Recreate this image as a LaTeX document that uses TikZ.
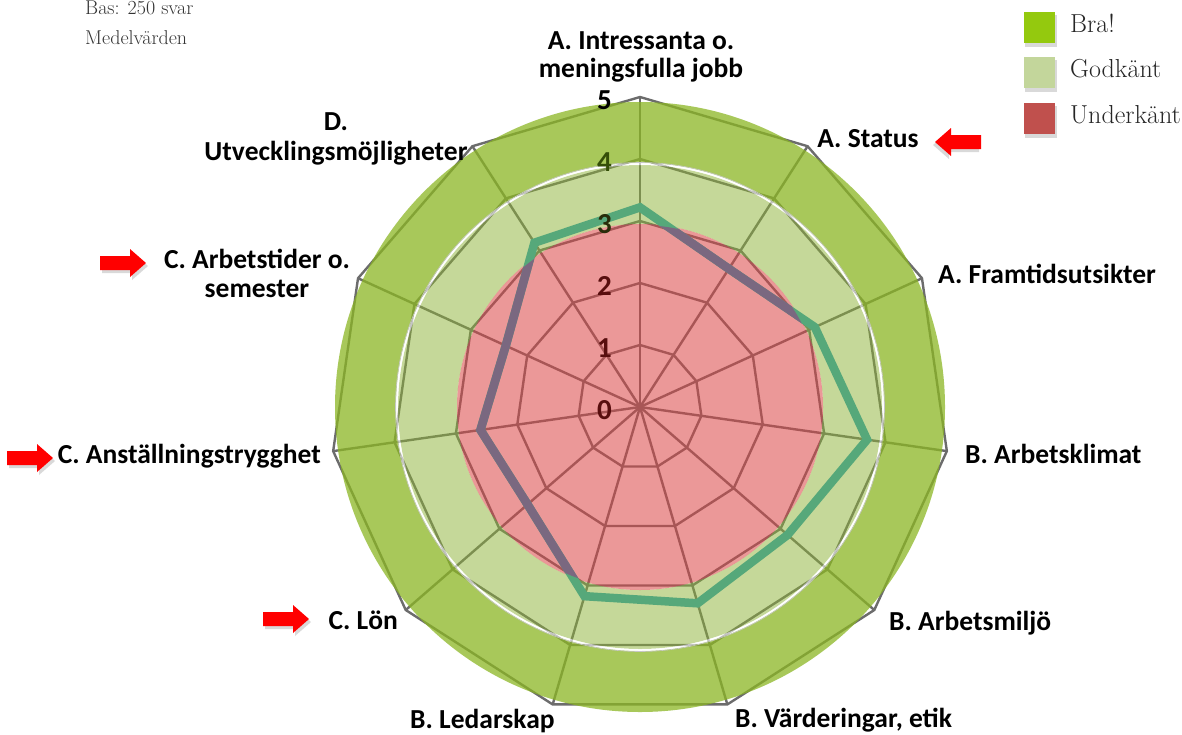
\documentclass[tikz,border=0pt]{standalone}
\usepackage{fontspec}
\newfontfamily\lab{Carlito}
\definecolor{gridgrey}{RGB}{108,108,108}
\definecolor{outergreen}{RGB}{139,182,35}
\definecolor{innergreen}{RGB}{141,179,53}
\definecolor{fillred}{RGB}{219,68,68}
\definecolor{lineteal}{RGB}{86,168,122}
\definecolor{linepurple}{RGB}{122,104,128}
\definecolor{legbra}{RGB}{148,201,14}
\definecolor{leggod}{RGB}{195,214,155}
\definecolor{legund}{RGB}{192,80,77}
\definecolor{arrowred}{RGB}{255,0,0}
\definecolor{numolive}{RGB}{52,78,8}
\definecolor{numdark}{RGB}{40,45,10}
\definecolor{nummaroon}{RGB}{88,14,14}
\tikzset{
  gridline/.style={draw=gridgrey, line width=2.4pt},
  axislabel/.style={font=\lab\bfseries\fontsize{27.5}{30}\selectfont, inner sep=0pt},
  numlabel/.style={font=\lab\bfseries\fontsize{29}{30}\selectfont, inner sep=0pt},
  legtext/.style={font=\fontsize{26}{28}\selectfont, inner sep=0pt, text=black!85},
  notetext/.style={font=\fontsize{20}{22}\selectfont, inner sep=0pt, text=black!80},
  dataline/.style={line width=8.5pt, line join=miter},
  redarrow/.pic={
    \fill[black, opacity=.15] (2,-4) -- (32,-4) -- (32,-11) -- (48,3) -- (32,17) -- (32,10) -- (2,10) -- cycle;
    \fill[arrowred] (0,-7) -- (30,-7) -- (30,-14) -- (46,0) -- (30,14) -- (30,7) -- (0,7) -- cycle;
  },
  legsquare/.style={minimum size=31pt, inner sep=0pt, draw=none}
}
\begin{document}
\begin{tikzpicture}[x=1pt,y=-1pt]
\useasboundingbox (0,0) rectangle (1182,734);
\fill[white] (0,0) rectangle (1182,734);
\def\cx{640}\def\cy{407}\def\u{62}
% grid spokes
\foreach \k in {0,...,10}
  \draw[gridline] (\cx,\cy) -- ({\cx+5*\u*cos(90-\k*360/11)},{\cy-5*\u*sin(90-\k*360/11)});
% grid polygons
\foreach \l in {1,...,5}
  \draw[gridline, line join=miter] plot[samples at={0,...,10}] ({\cx+\l*\u*cos(90-\x*360/11)},{\cy-\l*\u*sin(90-\x*360/11)}) -- cycle;
% coloured bands
\fill[outergreen, opacity=.75, even odd rule] (\cx,\cy) circle (305pt) (\cx,\cy) circle (244pt);
\fill[innergreen, opacity=.5, even odd rule] (\cx,\cy) circle (242pt) (\cx,\cy) circle (183pt);
\fill[fillred, opacity=.55] (\cx,\cy) circle (183pt);
\draw[white, opacity=.6, line width=2pt] (\cx,\cy) circle (243pt);
\draw[black!22, line width=.6pt] (\cx,\cy) circle (244.5pt);
% data
\foreach \v [count=\k from 0] in {3.22,2.65,3.1,3.7,3.15,3.3,3.18,2.4,2.6,2.38,3.15}
  \coordinate (d\k) at ({\cx+\v*\u*cos(90-\k*360/11)},{\cy-\v*\u*sin(90-\k*360/11)});
\draw[dataline, lineteal] (d0)--(d1)--(d2)--(d3)--(d4)--(d5)--(d6)--(d7)--(d8)--(d9)--(d10)--cycle;
\begin{scope}
  \clip (\cx,\cy) circle (182pt);
  \draw[dataline, linepurple] (d0)--(d1)--(d2)--(d3)--(d4)--(d5)--(d6)--(d7)--(d8)--(d9)--(d10)--cycle;
\end{scope}
% scale numbers
\node[numlabel, anchor=base east, text=black] (num5) at (612,109) {5};
\node[numlabel, anchor=base east, text=numolive] (num4) at (612,171) {4};
\node[numlabel, anchor=base east, text=numdark] (num3) at (612,233) {3};
\node[numlabel, anchor=base east, text=nummaroon] (num2) at (612,295) {2};
\node[numlabel, anchor=base east, text=nummaroon] (num1) at (612,357) {1};
\node[numlabel, anchor=base east, text=nummaroon] (num0) at (612,419) {0};
% axis labels
\node[axislabel, anchor=base] (la1) at (641,49) {A. Intressanta o.};
\node[axislabel, anchor=base] (la2) at (641,77) {meningsfulla jobb};
\node[axislabel, anchor=base] (lst) at (868,147) {A. Status};
\node[axislabel, anchor=base west] (lfr) at (938,283) {A. Framtidsutsikter};
\node[axislabel, anchor=base west] (lak) at (965,463) {B. Arbetsklimat};
\node[axislabel, anchor=base west] (lam) at (889,630) {B. Arbetsmiljö};
\node[axislabel, anchor=base west] (lva) at (735,727) {B. Värderingar, etik};
\node[axislabel, anchor=base west] (lle) at (410,728) {B. Ledarskap};
\node[axislabel, anchor=base east] (llo) at (398,629) {C. Lön};
\node[axislabel, anchor=base east] (lan) at (321,463) {C. Anställningstrygghet};
\node[axislabel, anchor=base] (lat1) at (257,268) {C. Arbetstider o.};
\node[axislabel, anchor=base] (lat2) at (257,297) {semester};
\node[axislabel, anchor=base] (lu1) at (336,130) {D.};
\node[axislabel, anchor=base] (lu2) at (336,160) {Utvecklingsmöjligheter};
% red arrows
\pic at (981,142) [xscale=-1] {redarrow};
\pic at (100,263) {redarrow};
\pic at (7,458) {redarrow};
\pic at (263,619) {redarrow};
% legend
\foreach \yy/\cc/\tt/\nm in {27/legbra/Bra!/bra, 72/leggod/Godkänt/god, 118/legund/Underkänt/und}{
  \fill[black, opacity=.15] (1025,\yy-12) rectangle (1057,\yy+20);
  \node[legsquare, fill=\cc] (sq\nm) at (1039,\yy) {};
  \node[legtext, anchor=base west] (tx\nm) at (1070,\yy+5) {\tt};
}
% notes
\node[notetext, anchor=base west] (bas) at (85,14) {Bas: 250 svar};
\node[notetext, anchor=base west] (med) at (85,44) {Medelvärden};
\end{tikzpicture}
\end{document}
